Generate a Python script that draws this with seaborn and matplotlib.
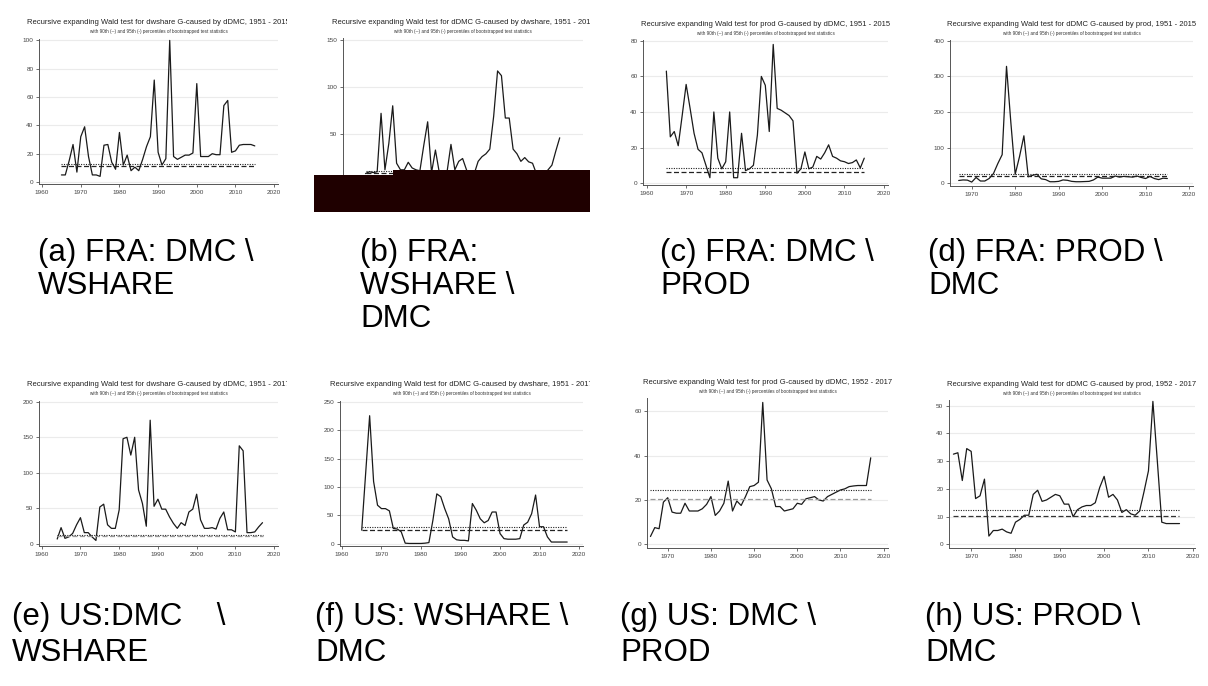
import numpy as np
import pandas as pd
import seaborn as sns
import matplotlib.pyplot as plt
from matplotlib.patches import Rectangle
from matplotlib.transforms import Bbox, TransformedBbox

W, H = 1208, 686

# ---- values ----
fra_years_a = list(range(1965, 2016))
fra_dwshare_by_dmc = [5, 5, 15, 26.5, 7, 32, 39, 18, 5, 5, 4, 26, 26.5, 14, 9, 35, 12, 19, 8, 10.5,
                      8, 16, 25, 32, 72, 21, 12, 16.5, 100, 18, 16, 17.5, 19, 19, 20.5, 69.5, 18, 18,
                      18, 20, 19.3, 19.3, 54, 57.6, 21, 22, 26, 26.5, 26.5, 26.5, 25.5]
fra_years_b = list(range(1965, 2016))
fra_dmc_by_dwshare = [8, 10, 9, 10, 72, 12, 40, 80, 19, 12, 12, 20, 14, 12, 11, 38, 63, 9, 33, 9,
                      5, 10, 39, 12, 21, 24, 12, 5, 8, 21, 26, 29, 34, 69, 117, 112, 67, 67, 34, 29,
                      21, 25, 20.5, 19, 8, 6, 7, 12, 17, 32, 46]
fra_years_c = list(range(1965, 2016))
fra_prod_by_dmc = [63, 26, 29, 21, 38, 55.5, 42, 28, 19, 17, 10, 3, 40, 14, 8, 12, 40, 3, 3, 28,
                   7, 8, 10, 27, 60, 55, 29, 78, 42, 41, 39.5, 38, 35, 5.5, 8, 17.5, 8, 9, 15, 13.5,
                   17, 21.5, 15, 14, 12.5, 12, 11, 11.5, 13, 8.5, 14]
fra_years_d = list(range(1967, 2016))
fra_dmc_by_prod = [7.5, 9, 8.5, 3, 16, 6, 6, 13, 27, 55, 80, 328, 170, 25, 75, 133, 18, 22, 25, 12,
                   10, 4, 4, 5, 9, 8, 5, 4, 4, 4.5, 5, 9, 17, 14, 14, 14, 20, 17, 19, 18,
                   17, 20, 16, 13, 19, 13, 10, 14, 13]
us_years_e = list(range(1964, 2018))
us_dwshare_by_dmc = [7, 23, 8, 10, 15, 27, 37, 16, 16, 10, 5, 52, 56, 27, 22, 22, 48, 148, 150, 125,
                     150, 76, 57, 25, 174, 53, 63, 49, 49, 38, 29, 22, 30, 26, 45, 49, 70, 34, 22, 22,
                     23, 21, 36, 45, 20, 20, 17, 138, 131, 16, 16, 17, 24, 30]
us_years_f = list(range(1965, 2018))
us_dmc_by_dwshare = [24, 125, 226, 110, 68, 62, 62, 58, 27, 26, 21, 1, 0.5, 0.5, 0.5, 0.5, 1, 2, 41, 88,
                     83, 62, 44, 12, 7, 6, 6, 5, 71, 59, 44, 37, 41, 56, 56, 18, 9, 8, 8, 8,
                     9, 33, 38, 53, 86, 30, 30, 12, 3, 3, 3, 3, 3]
us_years_g = list(range(1966, 2018))
us_prod_by_dmc = [3.5, 7.5, 7, 19, 21, 14.5, 14, 14, 18.5, 15, 15, 15, 16, 18, 21.5, 13, 15, 18.5, 28.5, 15,
                  19.5, 17.5, 21.5, 26, 26.5, 28, 64, 29, 25, 17, 17, 15, 15.5, 16, 18.5, 18, 20.5, 21, 21.5, 20,
                  19.5, 21.5, 22.5, 23.5, 24.5, 25, 26, 26.3, 26.5, 26.5, 26.5, 39]
us_years_h = list(range(1966, 2018))
us_dmc_by_prod = [32.5, 33, 23, 34.5, 33.5, 16.5, 17.5, 23.5, 3, 5, 5, 5.5, 4.5, 4, 8, 9, 10.5, 10.5, 18, 19.5,
                  15.5, 16, 17, 18, 17.5, 14.5, 14.5, 10, 12.5, 13.5, 14, 14, 15, 20.5, 24.5, 17, 18, 16, 11.5, 12.5,
                  11, 10.5, 12, 19, 26.5, 51.5, 30, 8, 7.5, 7.5, 7.5, 7.5]

# 95th (dotted) and 90th (dashed) bootstrap percentiles
crit_95 = [13, 11, 8.2, 27, 13, 29.5, 24.7, 12.4]
crit_90 = [11.3, 9, 6.4, 20, 11, 23.5, 20.5, 10.4]

titles = [
    "Recursive expanding Wald test for dwshare G-caused by dDMC, 1951 - 2015",
    "Recursive expanding Wald test for dDMC G-caused by dwshare, 1951 - 2015",
    "Recursive expanding Wald test for prod G-caused by dDMC, 1951 - 2015",
    "Recursive expanding Wald test for dDMC G-caused by prod, 1951 - 2015",
    "Recursive expanding Wald test for dwshare G-caused by dDMC, 1951 - 2017",
    "Recursive expanding Wald test for dDMC G-caused by dwshare, 1951 - 2017",
    "Recursive expanding Wald test for prod G-caused by dDMC, 1952 - 2017",
    "Recursive expanding Wald test for dDMC G-caused by prod, 1952 - 2017",
]
subtitle = "with 90th (--) and 95th (-) percentiles of bootstrapped test statistics"

captions = [
    ["(a) FRA: DMC \\", "WSHARE"],
    ["(b) FRA:", "WSHARE \\", "DMC"],
    ["(c) FRA: DMC \\", "PROD"],
    ["(d) FRA: PROD \\", "DMC"],
    ["(e) US:DMC    \\", "WSHARE"],
    ["(f) US: WSHARE \\", "DMC"],
    ["(g) US: DMC \\", "PROD"],
    ["(h) US: PROD \\", "DMC"],
]

series = [
    (fra_years_a, fra_dwshare_by_dmc), (fra_years_b, fra_dmc_by_dwshare),
    (fra_years_c, fra_prod_by_dmc), (fra_years_d, fra_dmc_by_prod),
    (us_years_e, us_dwshare_by_dmc), (us_years_f, us_dmc_by_dwshare),
    (us_years_g, us_prod_by_dmc), (us_years_h, us_dmc_by_prod),
]

# layout in pixels: axes box (x0, top, x1, bottom), xlim, ylim, ytick step, clip right edge for title
layout = [
    ((39, 39, 278, 184), (1959.2, 2021), (-1.4, 101), 20, 287),
    ((343, 38, 583, 183), (1959.2, 2021), (-2, 152), 50, 590),
    ((643, 40, 888, 185), (1959.1, 2021), (-1.1, 80.5), 20, 1208),
    ((950, 40, 1193, 186), (1965, 2020.9), (-8, 402), 100, 1208),
    ((39, 401, 278, 546), (1959.3, 2021), (-2.8, 201), 50, 287),
    ((340, 401, 583, 546), (1959.5, 2021), (-4, 252), 50, 590),
    ((647, 398, 888, 548), (1965.2, 2021), (-1.7, 66), 20, 1208),
    ((949, 400, 1195, 548), (1965, 2020.5), (-1.3, 52), 10, 1208),
]
# caption first baseline (x, y) and line step, in pixels
caption_pos = [(38, 261, 33), (360, 261, 33), (660, 261, 33), (928, 261, 33),
               (12, 625, 36), (315, 625, 36), (620, 625, 36), (925, 625, 36)]
dash_colors = ["#222222", "#222222", "#222222", "#222222", "#9a9a9a", "#222222", "#9a9a9a", "#333333"]

sns.set_theme(style="white")
plt.rcParams['font.family'] = ['Liberation Sans', 'DejaVu Sans']

fig = plt.figure(figsize=(W / 100, H / 100), dpi=100)
fig.patch.set_facecolor("white")

for i, ((x0, y0, x1, y1), xlim, ylim, ystep, clip_x) in enumerate(layout):
    ax = fig.add_axes([x0 / W, 1 - y1 / H, (x1 - x0) / W, (y1 - y0) / H])
    years, vals = series[i]
    df = pd.DataFrame({"year": years, "wald": vals})
    sns.lineplot(data=df, x="year", y="wald", ax=ax, color="#1a1a1a", linewidth=0.9)
    ax.hlines(crit_95[i], years[0], years[-1], colors="#222222", linestyles=(0, (1, 1.2)), linewidth=0.8)
    ax.hlines(crit_90[i], years[0], years[-1], colors=dash_colors[i], linestyles=(0, (4, 2)), linewidth=0.9)
    ax.set_xlim(*xlim)
    ax.set_ylim(*ylim)
    ax.set_xticks(np.arange(1960 if xlim[0] < 1960 else 1970, 2021, 10))
    ax.set_yticks(np.arange(0, ylim[1] + 0.01, ystep))
    ax.yaxis.grid(True, color="#ebebeb", linewidth=0.8)
    ax.xaxis.grid(False)
    ax.set_xlabel("")
    ax.set_ylabel("")
    for s in ["top", "right"]:
        ax.spines[s].set_visible(False)
    for s in ["left", "bottom"]:
        ax.spines[s].set_color("#555555")
        ax.spines[s].set_linewidth(0.7)
    ax.tick_params(axis="both", direction="out", length=2.5, width=0.6, colors="#555555",
                   labelsize=4.6, labelcolor="#444444", pad=1.5, left=True, bottom=True)
    ax.set_facecolor("white")

    cx = (x0 + x1) / 2 / W
    clip = TransformedBbox(Bbox.from_extents(0, 0, clip_x / W, 1), fig.transFigure)
    t = fig.text(cx, 1 - (y0 - 16) / H, titles[i], ha="center", va="center", fontsize=5.5, color="#222222")
    t.set_clip_on(True)
    t.set_clip_box(clip)
    s = fig.text(cx, 1 - (y0 - 7) / H, subtitle, ha="center", va="center", fontsize=3.3, color="#333333")
    s.set_clip_on(True)
    s.set_clip_box(clip)

    lx, ly, step = caption_pos[i]
    for k, line in enumerate(captions[i]):
        fig.text(lx / W, 1 - (ly + step * k) / H, line, ha="left", va="baseline", fontsize=22.5, color="black")

# dark block covering the bottom of panel (b) in the reference
fig.add_artist(Rectangle((314 / W, 1 - 212 / H), (393 - 314) / W, (212 - 175) / H,
                         transform=fig.transFigure, facecolor="#1f0000", edgecolor="none", zorder=10))
fig.add_artist(Rectangle((393 / W, 1 - 212 / H), (590 - 393) / W, (212 - 170) / H,
                         transform=fig.transFigure, facecolor="#1f0000", edgecolor="none", zorder=10))

fig.savefig("out.png", dpi=100, facecolor="white")
